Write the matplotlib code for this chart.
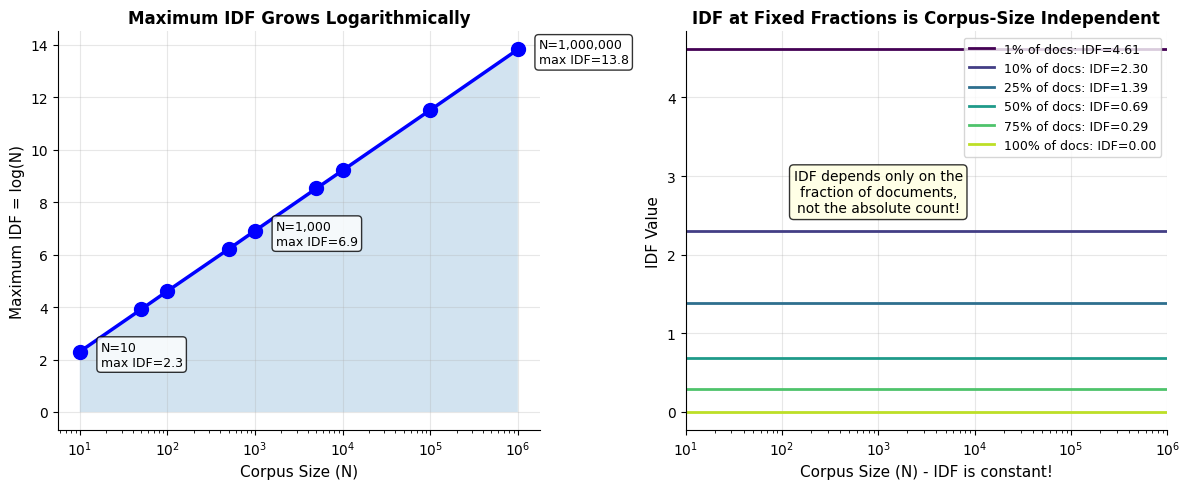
import matplotlib
matplotlib.use("Agg")
import matplotlib.pyplot as plt
import numpy as np

corpus_sizes = [10, 50, 100, 500, 1000, 5000, 10000, 100000, 1000000]
max_idf = [2.30, 3.91, 4.61, 6.21, 6.91, 8.52, 9.21, 11.51, 13.82]
annot_idx = [0, 4, 8]

fractions = ["1%", "10%", "25%", "50%", "75%", "100%"]
frac_idf = [4.61, 2.30, 1.39, 0.69, 0.29, 0.00]
x_range = [10, 1000000]

fig, (ax1, ax2) = plt.subplots(1, 2, figsize=(12, 5), dpi=100)

ax1.semilogx(corpus_sizes, max_idf, 'o-', color='blue', linewidth=2.5, markersize=10)
ax1.fill_between(corpus_sizes, 0, max_idf, alpha=0.2)
for i in annot_idx:
    ax1.annotate(f"N={corpus_sizes[i]:,}\nmax IDF={max_idf[i]:.1f}",
                 xy=(corpus_sizes[i], max_idf[i]), xytext=(15, -10),
                 textcoords='offset points', fontsize=9,
                 bbox=dict(boxstyle='round', facecolor='white', alpha=0.8))
ax1.set_xlabel("Corpus Size (N)", fontsize=11)
ax1.set_ylabel("Maximum IDF = log(N)", fontsize=11)
ax1.set_title("Maximum IDF Grows Logarithmically", fontsize=12, fontweight='bold')
ax1.grid(True, alpha=0.3)
ax1.spines['top'].set_visible(False)
ax1.spines['right'].set_visible(False)

colors = plt.cm.viridis(np.linspace(0, 0.9, len(fractions)))
for f, v, c in zip(fractions, frac_idf, colors):
    ax2.semilogx(x_range, [v, v], color=c, linewidth=2,
                 label=f"{f} of docs: IDF={v:.2f}")
ax2.set_xlim(x_range)
ax2.set_xlabel("Corpus Size (N) - IDF is constant!", fontsize=11)
ax2.set_ylabel("IDF Value", fontsize=11)
ax2.set_title("IDF at Fixed Fractions is Corpus-Size Independent", fontsize=12, fontweight='bold')
ax2.legend(loc='upper right', fontsize=9)
ax2.grid(True, alpha=0.3)
ax2.text(1000, 2.5, "IDF depends only on the\nfraction of documents,\nnot the absolute count!",
         ha='center', va='bottom', fontsize=10,
         bbox=dict(boxstyle='round', facecolor='lightyellow', alpha=0.8))
ax2.spines['top'].set_visible(False)
ax2.spines['right'].set_visible(False)

plt.tight_layout()
plt.savefig("out.png", dpi=100, bbox_inches='tight')
